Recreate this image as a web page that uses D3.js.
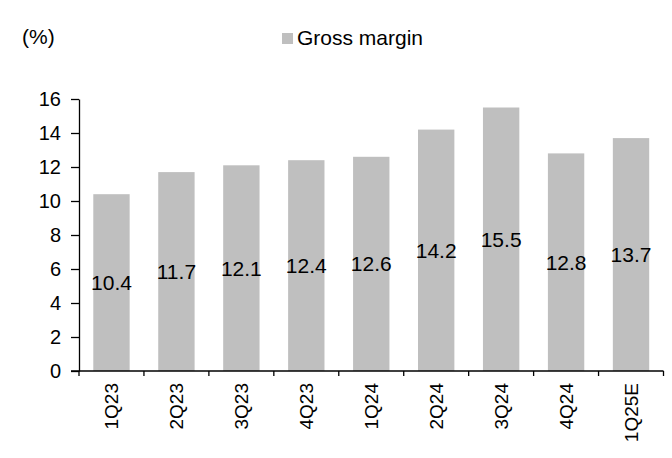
<!DOCTYPE html>
<html>
<head>
<meta charset="utf-8">
<script src="https://cdn.jsdelivr.net/npm/d3@7"></script>
<style>
  html, body { margin: 0; padding: 0; background: #fff; }
  svg { display: block; font-family: "Liberation Sans", Arial, sans-serif; }
</style>
</head>
<body>
<svg id="chart" width="672" height="458"></svg>
<script>
const categories = ["1Q23", "2Q23", "3Q23", "4Q23", "1Q24", "2Q24", "3Q24", "4Q24", "1Q25E"];
const grossMargin = [10.4, 11.7, 12.1, 12.4, 12.6, 14.2, 15.5, 12.8, 13.7];
const yTicks = [0, 2, 4, 6, 8, 10, 12, 14, 16];
const seriesName = "Gross margin";
const unitLabel = "(%)";

(function () {
const svg = d3.select("#chart");
const mLeft = 79, mRight = 663.5, mTop = 99, mBottom = 371;

const x = d3.scaleBand().domain(categories).range([mLeft, mRight]).paddingInner(0.44).paddingOuter(0.22);
const y = d3.scaleLinear().domain([0, 16]).range([mBottom, mTop]);

// bars
svg.append("g").selectAll("rect").data(grossMargin).join("rect")
  .attr("x", (d, i) => x(categories[i]))
  .attr("y", d => y(d))
  .attr("width", x.bandwidth())
  .attr("height", d => y(0) - y(d))
  .attr("fill", "#bfbfbf");

// data labels, centered on bar
svg.append("g").selectAll("text").data(grossMargin).join("text")
  .attr("x", (d, i) => x(categories[i]) + x.bandwidth() / 2)
  .attr("y", d => (y(0) + y(d)) / 2)
  .attr("text-anchor", "middle")
  .attr("dominant-baseline", "central")
  .attr("font-size", 21)
  .attr("fill", "#000")
  .text(d => d.toFixed(1));

// y axis
const yAxis = svg.append("g").attr("transform", `translate(${mLeft},0)`)
  .call(d3.axisLeft(y).tickValues(yTicks).tickSize(8).tickSizeOuter(0).tickPadding(10).tickFormat(d3.format("d")));
yAxis.selectAll("text").attr("font-size", 20).attr("fill", "#000").attr("font-family", "Liberation Sans, Arial, sans-serif");
yAxis.selectAll("line, path").attr("stroke", "#000").attr("stroke-width", 1.3);

// x axis with boundary ticks
const xAxis = svg.append("g").attr("transform", `translate(0,${mBottom})`);
xAxis.append("line").attr("x1", mLeft - 8).attr("x2", mRight).attr("y1", 0).attr("y2", 0)
  .attr("stroke", "#000").attr("stroke-width", 1.3);
const step = x.step();
const boundaries = categories.map(c => x(c) - x.paddingOuter() * step).concat([mRight]);
xAxis.selectAll("line.tk").data(boundaries).join("line").attr("class", "tk")
  .attr("x1", d => d).attr("x2", d => d).attr("y1", 0).attr("y2", 5)
  .attr("stroke", "#000").attr("stroke-width", 1.3);
xAxis.selectAll("text").data(categories).join("text")
  .attr("transform", d => `translate(${x(d) + x.bandwidth() / 2},12) rotate(-90)`)
  .attr("text-anchor", "end")
  .attr("dominant-baseline", "central")
  .attr("font-size", 19)
  .attr("fill", "#000")
  .text(d => d);

// unit label
svg.append("text").attr("x", 22).attr("y", 44).attr("font-size", 21).attr("fill", "#000").text(unitLabel);

// legend
svg.append("rect").attr("x", 282).attr("y", 33).attr("width", 11).attr("height", 11).attr("fill", "#bfbfbf");
svg.append("text").attr("x", 297).attr("y", 45).attr("font-size", 21).attr("fill", "#000").text(seriesName);
})();
</script>
</body>
</html>
